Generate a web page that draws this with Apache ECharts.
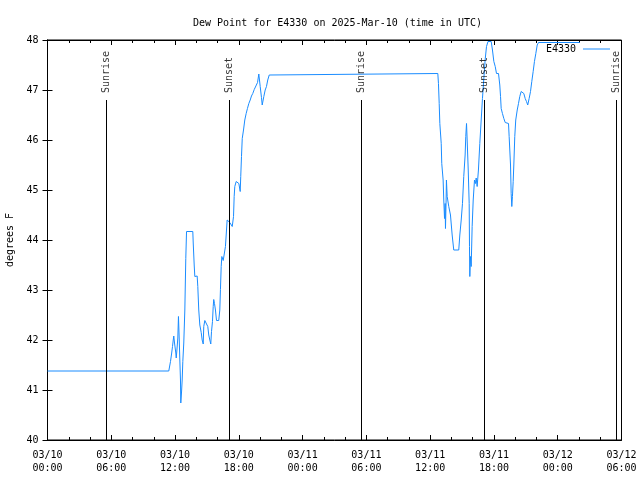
<!DOCTYPE html>
<html>
<head>
<meta charset="utf-8">
<script src="https://cdn.jsdelivr.net/npm/echarts@6/dist/echarts.min.js"></script>
<style>html,body{margin:0;padding:0;background:#fff}#c{width:640px;height:480px}</style>
</head>
<body>
<div id="c"></div>
<script>
// hours since 2025-03-10 00:00 UTC
const hours = [0, 11.41, 11.57, 11.67, 11.76, 11.83, 11.88, 11.95, 12.07, 12.11, 12.16, 12.26, 12.32, 12.39, 12.45, 12.51, 12.54, 12.61, 12.67, 12.73, 12.82, 12.92, 13.01, 13.08, 13.67, 13.71, 13.8, 13.86, 14.08, 14.14, 14.23, 14.33, 14.46, 14.55, 14.65, 14.7, 14.8, 14.96, 15.08, 15.17, 15.27, 15.36, 15.43, 15.52, 15.59, 15.64, 15.71, 15.8, 15.9, 16.11, 16.21, 16.27, 16.34, 16.4, 16.53, 16.59, 16.65, 16.74, 16.84, 16.9, 17.0, 17.15, 17.38, 17.5, 17.56, 17.62, 17.75, 17.87, 18.0, 18.13, 18.18, 18.25, 18.32, 18.44, 18.56, 18.69, 18.81, 18.94, 19.07, 19.19, 19.31, 19.45, 19.63, 19.76, 19.88, 20.01, 20.13, 20.2, 20.35, 20.48, 20.6, 20.72, 20.86, 20.98, 36.72, 36.78, 36.85, 36.91, 37.04, 37.09, 37.22, 37.28, 37.35, 37.41, 37.44, 37.5, 37.53, 37.6, 37.75, 37.91, 38.07, 38.22, 38.69, 38.79, 38.92, 39.04, 39.16, 39.29, 39.35, 39.42, 39.48, 39.58, 39.67, 39.7, 39.73, 39.79, 39.86, 39.95, 40.05, 40.17, 40.26, 40.33, 40.42, 40.54, 40.67, 40.8, 40.92, 41.04, 41.17, 41.3, 41.44, 41.74, 41.86, 41.99, 42.12, 42.24, 42.43, 42.55, 42.62, 42.68, 42.8, 42.93, 43.06, 43.37, 43.43, 43.56, 43.62, 43.68, 43.74, 43.81, 43.87, 43.96, 44.05, 44.19, 44.31, 44.43, 44.56, 44.68, 44.81, 44.94, 45.06, 45.18, 45.31, 45.44, 45.56, 45.69, 45.81, 45.94, 46.07, 46.19, 50.08];
const dewF = [41.38, 41.38, 41.57, 41.72, 41.87, 42.0, 42.08, 41.94, 41.74, 41.64, 41.76, 42.04, 42.47, 42.04, 41.6, 41.2, 40.74, 40.96, 41.2, 41.57, 41.94, 42.6, 43.63, 44.17, 44.17, 43.94, 43.5, 43.27, 43.28, 43.07, 42.6, 42.3, 42.15, 42.0, 41.92, 42.27, 42.39, 42.39, 42.27, 42.1, 42.0, 41.92, 42.17, 42.37, 42.67, 42.81, 42.73, 42.6, 42.39, 42.39, 42.6, 43.01, 43.47, 43.67, 43.59, 43.63, 43.59, 43.87, 44.2, 44.4, 44.41, 44.35, 44.27, 44.47, 44.87, 45.07, 45.17, 45.19, 45.13, 44.97, 45.27, 45.67, 46.03, 46.2, 46.4, 46.53, 46.63, 46.73, 46.8, 46.88, 46.93, 47.01, 47.01, 47.15, 47.32, 47.07, 46.85, 46.7, 46.87, 47.0, 47.07, 47.2, 47.3, 47.33, 47.33, 47.13, 46.73, 46.33, 45.93, 45.53, 45.2, 44.8, 44.43, 44.73, 44.23, 44.8, 45.2, 44.87, 44.67, 44.5, 44.1, 43.8, 43.8, 44.1, 44.4, 44.73, 45.27, 45.7, 46.07, 46.33, 46.0, 45.4, 44.73, 43.87, 43.27, 43.67, 43.47, 44.27, 44.8, 45.2, 45.13, 45.24, 45.07, 45.4, 45.93, 46.4, 46.83, 47.2, 47.6, 47.87, 47.97, 47.97, 47.8, 47.57, 47.47, 47.33, 47.33, 47.1, 46.87, 46.63, 46.53, 46.43, 46.35, 46.33, 46.07, 45.5, 44.93, 44.67, 44.87, 45.17, 45.5, 46.07, 46.4, 46.6, 46.73, 46.87, 46.97, 47.01, 46.93, 46.83, 46.77, 46.7, 46.83, 46.97, 47.17, 47.37, 47.57, 47.73, 47.9, 47.95, 47.95];
const sunNames = ['Sunrise', 'Sunset', 'Sunrise', 'Sunset', 'Sunrise'];
const sunHours = [5.52, 17.07, 29.53, 41.1, 53.52];
const seriesName = 'E4330';
const titleText = 'Dew Point for E4330 on 2025-Mar-10 (time in UTC)';
const yName = 'degrees F';
const xMin = 0, xMax = 54, xStep = 6;
const yMin = 40, yMax = 48, yStep = 1;
const sunLineTop = 46.8;
const sunLabelAt = 46.94;

const FONT = 'DejaVu Sans Mono';
function pad(n){ return (n < 10 ? '0' : '') + n; }
function fmtHour(h){
  const day = 10 + Math.floor(h / 24);
  const hh = Math.round(h % 24);
  return '03/' + pad(day) + '\n' + pad(hh) + ':00';
}

const lineData = hours.map((h, i) => [h, dewF[i]]);
const sunLines = sunHours.map(h => [{coord: [h, sunLineTop]}, {coord: [h, yMin]}]);
const sunLabels = sunHours.map((h, i) => ({value: [h, sunLabelAt], name: sunNames[i]}));

const chart = echarts.init(document.getElementById('c'), null, {renderer: 'canvas'});
const baseText = {fontFamily: FONT, fontSize: 10, color: '#000'};
const LINE_COLOR = '#1a8cff';
chart.setOption({
  animation: false,
  backgroundColor: '#fff',
  title: {
    text: titleText, left: 188, top: 13,
    textStyle: Object.assign({}, baseText, {fontWeight: 'normal'})
  },
  legend: {
    data: [{name: seriesName, icon: 'rect'}], right: 25, top: 39, align: 'right',
    itemWidth: 27, itemHeight: 1, itemGap: 0,
    textStyle: Object.assign({}, baseText, {padding: [0, 2, 0, 0]})
  },
  grid: {left: 47.5, right: 18.5, top: 40, bottom: 40, show: true, borderColor: '#000', borderWidth: 1, backgroundColor: 'transparent', outerBoundsMode: 'none', containLabel: false},
  xAxis: [{
    type: 'value', min: xMin, max: xMax, interval: xStep,
    axisLine: {show: true, lineStyle: {color: '#000', width: 1}},
    axisTick: {show: true, inside: true, length: 5, lineStyle: {color: '#000'}},
    minorTick: {show: true, splitNumber: 3, length: 3, lineStyle: {color: '#000'}},
    splitLine: {show: false},
    axisLabel: Object.assign({}, baseText, {margin: 9, lineHeight: 13, formatter: fmtHour})
  }, {
    type: 'value', min: xMin, max: xMax, interval: xStep, position: 'top',
    axisLine: {show: true, lineStyle: {color: '#000', width: 1}},
    axisTick: {show: true, inside: true, length: 5, lineStyle: {color: '#000'}},
    minorTick: {show: true, splitNumber: 3, length: 3, lineStyle: {color: '#000'}},
    splitLine: {show: false}, axisLabel: {show: false}
  }],
  yAxis: [{
    type: 'value', min: yMin, max: yMax, interval: yStep,
    name: yName, nameLocation: 'middle', nameGap: 32, nameRotate: 90,
    nameTextStyle: baseText,
    axisLine: {show: true, lineStyle: {color: '#000', width: 1}},
    axisTick: {show: true, inside: true, length: 5, lineStyle: {color: '#000'}},
    splitLine: {show: false},
    axisLabel: Object.assign({}, baseText, {margin: 9})
  }, {
    type: 'value', min: yMin, max: yMax, interval: yStep, position: 'right',
    axisLine: {show: true, lineStyle: {color: '#000', width: 1}},
    axisTick: {show: true, inside: true, length: 5, lineStyle: {color: '#000'}},
    splitLine: {show: false}, axisLabel: {show: false}
  }],
  series: [{
    name: seriesName, type: 'line', data: lineData, xAxisIndex: 0, yAxisIndex: 0,
    symbol: 'none', showSymbol: false, color: LINE_COLOR,
    lineStyle: {width: 1, color: LINE_COLOR}, z: 3
  }, {
    name: 'sun', type: 'scatter', data: sunLabels, symbolSize: 0, silent: true,
    label: {
      show: true, position: [0, 0], rotate: 90, align: 'left', verticalAlign: 'middle',
      formatter: p => p.name, fontFamily: FONT, fontSize: 10, color: '#000'
    },
    markLine: {
      silent: true, symbol: 'none', animation: false,
      lineStyle: {color: '#000', width: 1, type: 'solid'},
      label: {show: false}, data: sunLines
    }, z: 4
  }]
});
</script>
</body>
</html>
